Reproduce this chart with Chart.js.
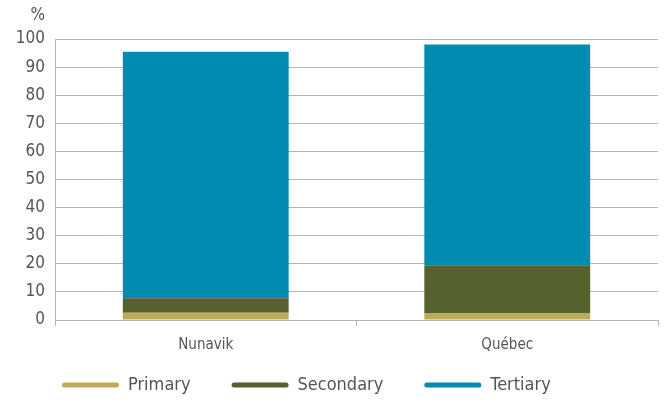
<!DOCTYPE html>
<html>
<head>
<meta charset="utf-8">
<script src="https://cdn.jsdelivr.net/npm/chart.js@4"></script>
<style>
  html, body { margin: 0; padding: 0; background: #fff; }
  #wrap { width: 667px; height: 404px; }
</style>
</head>
<body>
<div id="wrap"><canvas id="c" width="667" height="404"></canvas></div>
<script>
// values (share of employment, %)
const categories = ['Nunavik', 'Québec'];
const primary = [2.6, 2.3];
const secondary = [5.1, 17.2];
const tertiary = [87.8, 78.5];
const yTicks = [0, 10, 20, 30, 40, 50, 60, 70, 80, 90, 100];

const FONT = '"Liberation Sans Narrow", "DejaVu Sans Condensed", "Roboto Condensed", sans-serif';
const GRID = '#b4b4b4';
const TEXT = '#555555';
const LEGEND_MID_Y = 385;
const LEGEND_X_SHIFT = 4;

// "%" unit above the y axis labels
const unitLabel = {
  id: 'unitLabel',
  afterDraw(chart) {
    const ctx = chart.ctx;
    const y = chart.scales.y;
    ctx.save();
    ctx.font = '17px ' + FONT;
    ctx.fillStyle = TEXT;
    ctx.textAlign = 'right';
    ctx.textBaseline = 'alphabetic';
    ctx.fillText('%', y.right - 10, 20);
    ctx.restore();
  }
};

// the legend keeps wide item spacing, so pull it back up under the axis labels
const legendShift = {
  id: 'legendShift',
  afterLayout(chart) {
    const l = chart.legend;
    const o = l.options.labels;
    const mid = l.top + o.padding + Math.max(o.font.size, o.boxHeight) / 2;
    const d = LEGEND_MID_Y - mid;
    l.top += d;
    l.bottom += d;
    l.left += LEGEND_X_SHIFT;
    l.right += LEGEND_X_SHIFT;
  }
};

new Chart(document.getElementById('c'), {
  type: 'bar',
  data: {
    labels: categories,
    datasets: [
      { label: 'Primary', data: primary, backgroundColor: '#bfaa55' },
      { label: 'Secondary', data: secondary, backgroundColor: '#55622e' },
      { label: 'Tertiary', data: tertiary, backgroundColor: '#008bb0' }
    ]
  },
  options: {
    responsive: false,
    animation: false,
    layout: { padding: { top: 39, right: 9, left: 17, bottom: -29 } },
    datasets: { bar: { categoryPercentage: 0.55, barPercentage: 1, borderWidth: 0 } },
    scales: {
      x: {
        stacked: true,
        grid: { display: true, drawOnChartArea: false, offset: true, tickLength: 6, color: GRID },
        border: { display: true, color: GRID },
        ticks: { color: TEXT, font: { family: FONT, size: 15 }, padding: 10 }
      },
      y: {
        stacked: true,
        min: 0,
        max: 100,
        afterFit(s) { s.width = 38; },
        afterBuildTicks(axis) { axis.ticks = yTicks.map(v => ({ value: v })); },
        grid: { color: GRID, drawTicks: false },
        border: { display: true, color: GRID },
        ticks: { color: TEXT, font: { family: FONT, size: 17 }, padding: 10 }
      }
    },
    plugins: {
      tooltip: { enabled: false },
      legend: {
        position: 'bottom',
        align: 'start',
        labels: {
          color: TEXT,
          font: { family: FONT, size: 18 },
          boxWidth: 57,
          boxHeight: 5,
          useBorderRadius: true,
          borderRadius: 2.5,
          padding: 41
        }
      }
    }
  },
  plugins: [unitLabel, legendShift]
});
</script>
</body>
</html>
